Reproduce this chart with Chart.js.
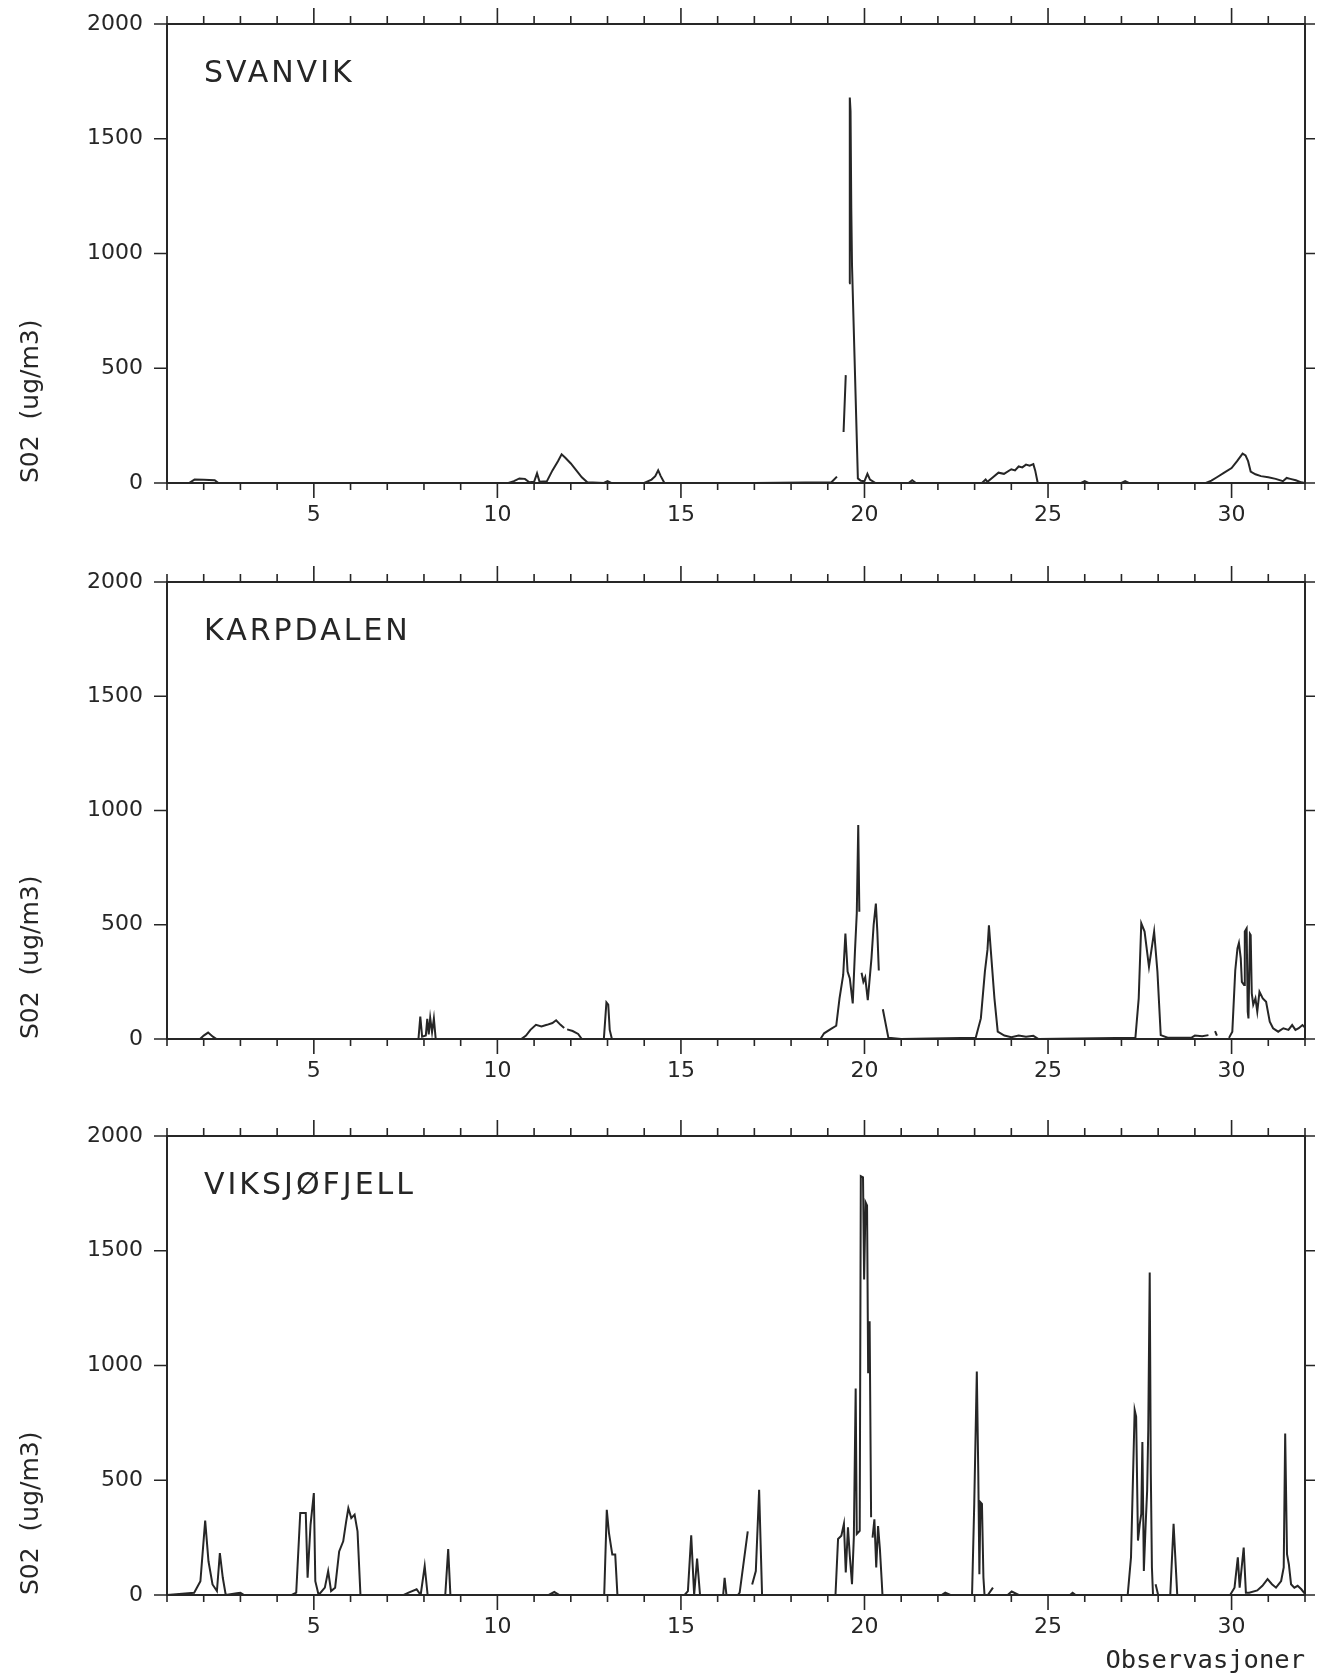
<!DOCTYPE html>
<html lang="no">
<head>
<meta charset="utf-8">
<title>SO2 - Svanvik, Karpdalen, Viksjøfjell</title>
<script src="https://cdn.jsdelivr.net/npm/chart.js@4.4.1/dist/chart.umd.min.js"></script>
<style>
  html, body { margin: 0; padding: 0; background: #fff; }
  #page { position: relative; width: 1319px; height: 1677px; overflow: hidden; }
  .panel { position: absolute; left: 0; width: 1324px; }
  canvas { display: block; }
</style>
</head>
<body>
<div id="page">
  <div class="panel" style="top:-21px"><canvas id="svanvik-chart" width="1324" height="558"></canvas></div>
  <div class="panel" style="top:537px"><canvas id="karpdalen-chart" width="1324" height="554"></canvas></div>
  <div class="panel" style="top:1091px"><canvas id="viksjofjell-chart" width="1324" height="586"></canvas></div>
</div>
<script>
// --- data (day of month, SO2 in ug/m3, null = break in the record) ---
const xTickLabels = [5, 10, 15, 20, 25, 30];
const yTickValues = [0, 500, 1000, 1500, 2000];
const stationNames = ['SVANVIK', 'KARPDALEN', 'VIKSJØFJELL'];

const svanvikDays = [1.0, 1.6, 1.75, 2.0, 2.3, 2.4, 5.0, 8.0, 10.3, 10.45, 10.6, 10.75, 10.87, 11.0, 11.08, 11.15,
  11.35, 11.5, 11.65, 11.75, 11.85, 12.0, 12.15, 12.3, 12.45, 12.9, 13.0, 13.1, 14.0, 14.2, 14.3, 14.38, 14.45,
  14.55, 17.0, 19.1, 19.25, 19.3, 19.43, 19.49, 19.53, 19.58, 19.6, 19.62, 19.64, 19.66, 19.82, 19.9, 20.0,
  20.08, 20.15, 20.3, 21.2, 21.3, 21.4, 23.2, 23.3, 23.35, 23.5, 23.65, 23.8, 24.0, 24.1, 24.2, 24.3, 24.4,
  24.5, 24.6, 24.65, 24.72, 25.9, 26.0, 26.1, 27.0, 27.1, 27.2, 29.3, 29.45, 29.6, 29.8, 30.0, 30.15, 30.3,
  30.38, 30.45, 30.52, 30.65, 30.8, 31.0, 31.2, 31.4, 31.5, 31.6, 31.75, 31.9, 32.0];
const svanvikSO2 = [0, 0, 15, 14, 12, 0, 0, 0, 0, 8, 20, 18, 3, 5, 42, 5,
  8, 55, 95, 125, 110, 85, 55, 25, 3, 0, 8, 0, 0, 15, 30, 55, 30,
  0, 0, 3, 28, null, 222, 470, null, 870, 1680, 1620, 1200, 950, 20, 10, 8,
  40, 15, 0, 0, 12, 0, 0, 15, 5, 25, 45, 40, 60, 55, 72, 68, 80,
  75, 82, 55, 0, 0, 8, 0, 0, 8, 0, 0, 10, 25, 45, 65, 95, 128,
  120, 95, 50, 38, 30, 25, 18, 8, 22, 18, 12, 3, 0];

const karpdalenDays = [1.0, 1.9, 2.0, 2.12, 2.25, 2.35, 5.0, 7.85, 7.9, 7.95, 8.05, 8.09, 8.13, 8.17, 8.22, 8.27,
  8.32, 10.65, 10.78, 10.9, 11.05, 11.2, 11.35, 11.5, 11.6, 11.72, 11.82, 11.86, 11.9, 12.05, 12.2, 12.3,
  12.9, 12.97, 13.02, 13.06, 13.12, 18.8, 18.9, 19.1, 19.23, 19.32, 19.42, 19.48, 19.54, 19.6, 19.68, 19.74,
  19.79, 19.83, 19.86, 19.88, 19.92, 19.97, 20.02, 20.09, 20.19, 20.25, 20.31, 20.35, 20.39, 20.42, 20.5,
  20.65, 21.0, 23.03, 23.17, 23.28, 23.35, 23.39, 23.44, 23.54, 23.63, 23.81, 24.0, 24.2, 24.4, 24.6, 24.74,
  27.38, 27.47, 27.54, 27.63, 27.75, 27.89, 27.98, 28.07, 28.26, 28.9, 29.0, 29.2, 29.37, 29.42, 29.55, 29.6,
  29.65, 29.93, 30.02, 30.1, 30.16, 30.2, 30.25, 30.28, 30.34, 30.36, 30.41, 30.44, 30.46, 30.5, 30.52, 30.55,
  30.59, 30.65, 30.7, 30.76, 30.85, 30.94, 31.04, 31.13, 31.27, 31.41, 31.55, 31.65, 31.74, 31.83, 31.93, 32.0];
const karpdalenSO2 = [0, 0, 15, 28, 10, 0, 0, 0, 98, 10, 15, 88, 20, 92, 30, 90,
  0, 0, 15, 40, 62, 55, 62, 70, 82, 62, 48, null, 42, 35, 22, 0,
  0, 160, 150, 40, 0, 0, 25, 45, 58, 178, 280, 462, 295, 265, 156, 382,
  550, 936, 557, null, 290, 250, 270, 170, 353, 500, 593, 470, 300, null, 130,
  6, 0, 5, 90, 295, 390, 498, 390, 178, 32, 15, 8, 15, 10, 14, 0,
  5, 178, 506, 470, 316, 470, 295, 17, 6, 5, 15, 12, 17, null, 35, 15,
  null, 5, 32, 300, 396, 420, 353, 250, 236, 470, 484, 120, 90, 460, 455, 200,
  150, 178, 120, 207, 178, 163, 76, 47, 32, 47, 40, 61, 40, 47, 61, 50];

const viksjofjellDays = [1.0, 1.74, 1.91, 2.04, 2.13, 2.24, 2.36, 2.44, 2.52, 2.6, 2.9, 3.0, 3.1, 4.4, 4.52, 4.63,
  4.78, 4.83, 4.91, 5.0, 5.04, 5.13, 5.3, 5.39, 5.47, 5.58, 5.69, 5.8, 5.88, 5.94, 6.02, 6.11, 6.19, 6.27,
  7.45, 7.58, 7.8, 7.91, 8.02, 8.1, 8.58, 8.66, 8.72, 11.4, 11.55, 11.69, 12.91, 12.98, 13.04, 13.13, 13.21,
  13.27, 15.1, 15.19, 15.28, 15.36, 15.44, 15.52, 16.15, 16.19, 16.24, 16.55, 16.6, 16.82, 16.86, 16.94,
  17.04, 17.13, 17.21, 19.21, 19.28, 19.37, 19.44, 19.49, 19.55, 19.6, 19.66, 19.71, 19.76, 19.79, 19.87,
  19.9, 19.96, 19.99, 20.03, 20.07, 20.1, 20.14, 20.18, 20.19, 20.22, 20.27, 20.32, 20.37, 20.42, 20.47,
  20.49, 22.1, 22.2, 22.34, 22.93, 22.99, 23.06, 23.1, 23.13, 23.16, 23.2, 23.24, 23.27, 23.3, 23.36, 23.5,
  23.55, 23.9, 24.01, 24.2, 25.6, 25.67, 25.75, 27.17, 27.26, 27.36, 27.4, 27.45, 27.5, 27.54, 27.57, 27.61,
  27.66, 27.7, 27.73, 27.77, 27.8, 27.83, 27.86, 27.9, 27.93, 28.0, 28.33, 28.42, 28.52, 29.96, 30.08,
  30.17, 30.22, 30.33, 30.39, 30.48, 30.7, 30.84, 30.98, 31.1, 31.21, 31.35, 31.42, 31.46, 31.51, 31.56,
  31.62, 31.71, 31.8, 31.9, 32.0];
const viksjofjellSO2 = [0, 10, 60, 324, 147, 46, 17, 183, 75, 0, 8, 10, 0, 0, 10, 357,
  357, 75, 306, 444, 60, 0, 32, 104, 17, 32, 190, 234, 320, 378, 335, 350, 277, 0,
  0, 10, 25, 0, 126, 0, 0, 200, 0, 0, 13, 0, 0, 371, 270, 176, 176,
  0, 0, 17, 260, 0, 159, 0, 0, 75, 0, 0, 10, 277, null, 46,
  104, 458, 0, 0, 244, 258, 310, 98, 295, 171, 47, 251, 900, 266, 280,
  1825, 1820, 1375, 1711, 1697, 966, 1193, 339, null, 250, 330, 120, 300, 200, 60,
  0, 0, 10, 0, 0, 397, 974, 529, 90, 404, 397, 76, 0, null, 0, 32,
  null, 0, 15, 0, 0, 10, 0, 0, 164, 806, 777, 237, 310, 353, 667, 105,
  310, 455, 718, 1405, 529, 120, 0, null, 47, 0, 0, 310, 0, 0, 32,
  164, 32, 207, 10, 10, 20, 40, 69, 47, 32, 61, 120, 704, 178, 134,
  47, 32, 40, 25, 5];

// --- layout of the three panels (canvas pixels) ---
const INK = '#262626';
const DAY_MIN = 1;
const DAY_MAX = 32;

const panels = [
  { id: 'svanvik-chart', name: stationNames[0], days: svanvikDays, values: svanvikSO2, height: 558, top: 45, bottom: 504, xTitle: false },
  { id: 'karpdalen-chart', name: stationNames[1], days: karpdalenDays, values: karpdalenSO2, height: 554, top: 45, bottom: 502, xTitle: false },
  { id: 'viksjofjell-chart', name: stationNames[2], days: viksjofjellDays, values: viksjofjellSO2, height: 586, top: 45, bottom: 504, xTitle: true }
];

// frame with outward tick marks, like the plotter output
const framePlugin = {
  id: 'frame',
  afterDatasetsDraw(chart) {
    const { ctx, chartArea: a, scales } = chart;
    ctx.save();
    ctx.strokeStyle = INK;
    ctx.lineWidth = 2;
    ctx.strokeRect(a.left, a.top, a.right - a.left, a.bottom - a.top);
    ctx.lineWidth = 1.6;
    ctx.beginPath();
    for (let d = DAY_MIN; d <= DAY_MAX; d++) {
      const x = scales.x.getPixelForValue(d);
      const major = d % 5 === 0;
      ctx.moveTo(x, a.bottom);
      ctx.lineTo(x, a.bottom + (major ? 15 : 7));
      ctx.moveTo(x, a.top);
      ctx.lineTo(x, a.top - (major ? 16 : 8));
    }
    yTickValues.forEach(v => {
      const y = scales.y.getPixelForValue(v);
      ctx.moveTo(a.left, y);
      ctx.lineTo(a.left - 13, y);
      ctx.moveTo(a.right, y);
      ctx.lineTo(a.right + 10, y);
    });
    ctx.stroke();
    ctx.restore();
  }
};

// station name in the upper left of each panel
const stationLabelPlugin = {
  id: 'stationLabel',
  afterDraw(chart, args, opts) {
    const { ctx, chartArea: a } = chart;
    ctx.save();
    ctx.fillStyle = INK;
    ctx.font = '30px "DejaVu Sans"';
    ctx.letterSpacing = '3px';
    ctx.textBaseline = 'alphabetic';
    ctx.fillText(opts.text, a.left + 37, a.top + 58);
    ctx.restore();
  }
};

function createPanelChart(p) {
  const ctx = document.getElementById(p.id).getContext('2d');
  const points = p.days.map((d, i) => ({ x: d, y: p.values[i] }));
  const tickFont = { family: '"DejaVu Sans"', size: 22 };
  return new Chart(ctx, {
    type: 'line',
    data: {
      datasets: [{
        label: p.name,
        data: points,
        borderColor: INK,
        borderWidth: 2,
        pointRadius: 0,
        tension: 0,
        spanGaps: false,
        fill: false
      }]
    },
    options: {
      responsive: false,
      animation: false,
      devicePixelRatio: 1,
      layout: { padding: 0 },
      plugins: {
        legend: { display: false },
        tooltip: { enabled: false },
        stationLabel: { text: p.name }
      },
      scales: {
        x: {
          type: 'linear',
          position: 'bottom',
          min: DAY_MIN,
          max: DAY_MAX,
          grid: { display: false, drawTicks: false },
          border: { display: false },
          ticks: {
            stepSize: 1,
            autoSkip: false,
            includeBounds: false,
            maxRotation: 0,
            padding: 19,
            color: INK,
            font: tickFont,
            callback: v => xTickLabels.includes(v) ? String(v) : ''
          },
          title: {
            display: p.xTitle,
            text: 'Observasjoner',
            align: 'end',
            color: INK,
            font: { family: '"DejaVu Sans Mono"', size: 25.5 },
            padding: { top: 0, bottom: 0 }
          },
          afterFit: s => { s.height = p.height - p.bottom; }
        },
        xTop: {
          type: 'linear',
          position: 'top',
          min: DAY_MIN,
          max: DAY_MAX,
          grid: { display: false, drawTicks: false },
          border: { display: false },
          ticks: { display: false },
          afterFit: s => { s.height = p.top; }
        },
        y: {
          position: 'left',
          min: 0,
          max: 2000,
          grid: { display: false, drawTicks: false },
          border: { display: false },
          ticks: {
            stepSize: 500,
            padding: 24,
            color: INK,
            font: tickFont,
            callback: v => String(v)
          },
          title: {
            display: true,
            text: 'S02  (ug/m3)',
            align: 'start',
            color: INK,
            font: { family: '"DejaVu Sans"', size: 25 },
            padding: { top: 16, bottom: 0 }
          },
          afterFit: s => { s.width = 167; }
        },
        yRight: {
          position: 'right',
          min: 0,
          max: 2000,
          grid: { display: false, drawTicks: false },
          border: { display: false },
          ticks: { display: false },
          afterFit: s => { s.width = 9; }
        }
      }
    },
    plugins: [framePlugin, stationLabelPlugin]
  });
}

const charts = panels.map(createPanelChart);
</script>
</body>
</html>
